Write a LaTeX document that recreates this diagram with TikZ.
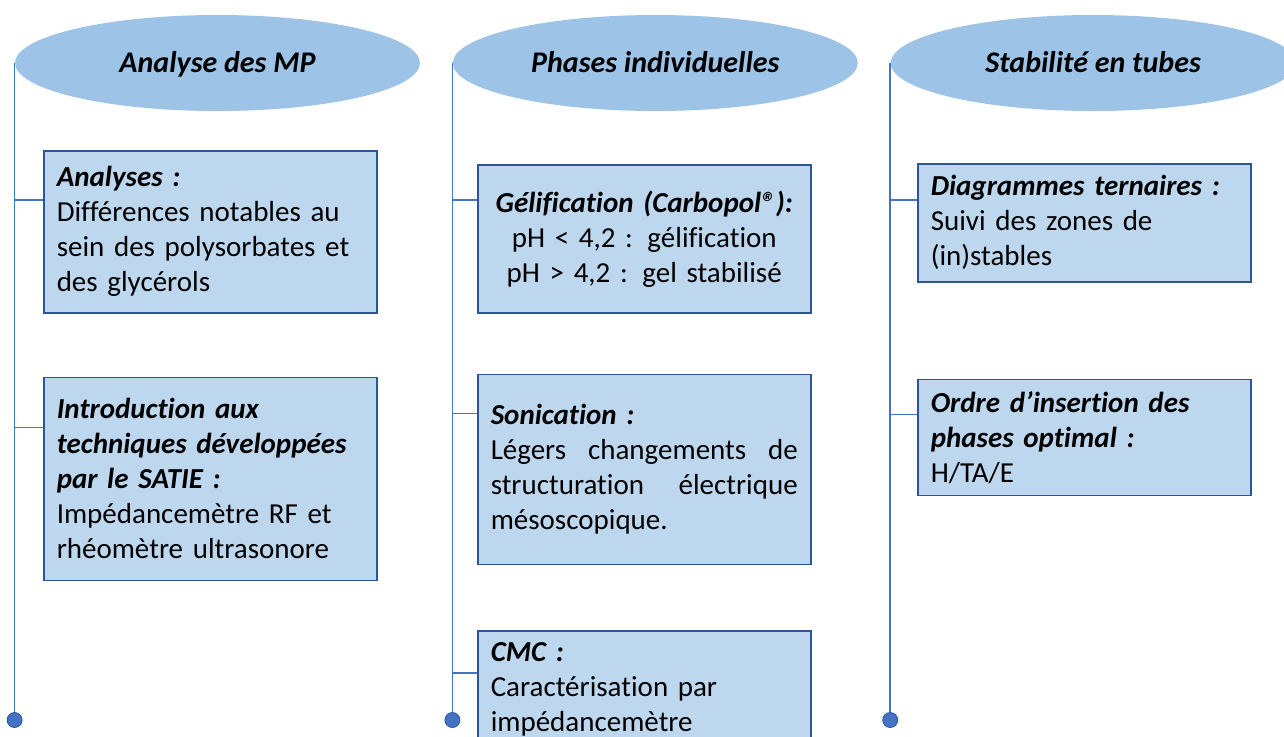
\documentclass[tikz,border=0pt]{standalone}
\usepackage{fontspec}
\setmainfont{Carlito}[Ligatures=NoCommon]
\usepackage{xcolor}
\usetikzlibrary{positioning,shapes.geometric}
\definecolor{hdrblue}{HTML}{9DC3E6}
\definecolor{cardblue}{HTML}{BDD7EE}
\definecolor{cardline}{HTML}{2F5597}
\definecolor{spineblue}{HTML}{4472C4}
\tikzset{
  hdr/.style={ellipse, fill=hdrblue, minimum width=202.5pt, minimum height=48pt,
              inner sep=0pt, text height=9.7pt, text depth=0pt,
              font=\fontsize{15pt}{18pt}\selectfont\bfseries\itshape},
  card/.style={rectangle, draw=cardline, line width=0.75pt, fill=cardblue,
               text width=153.5pt, inner xsep=6.5pt, inner ysep=0pt,
               minimum height=#1, align=left, font=\fontsize{14.5pt}{17.5pt}\selectfont},
  spine/.style={draw=spineblue, line width=0.75pt},
  tick/.style={draw=spineblue, line width=0.75pt},
  dot/.style={circle, fill=spineblue, draw=cardline, line width=0.4pt,
              minimum size=7.5pt, inner sep=0pt},
}
\newcommand{\ttl}[1]{\textbf{\textit{#1}}}

\begin{document}
\begin{tikzpicture}[x=0.5pt, y=-0.5pt, node distance=30pt and 16pt]
  \useasboundingbox (0,0) rectangle (1284,736);
  % headers
  \node[hdr] (mp) at (217.5,63) {Analyse des MP};
  \node[hdr, right=16pt of mp] (phases) {Phases individuelles};
  \node[hdr, right=16pt of phases] (tubes) {Stabilité en tubes};

  % column 1
  \node[card=81pt, anchor=north west] (ana) at (43,150)
    {\ttl{Analyses :}\\Différences notables au\\sein des polysorbates et\\des glycérols};
  \node[card=101.5pt, below=31.5pt of ana] (satie)
    {\ttl{Introduction aux}\\\ttl{techniques développées}\\\ttl{par le SATIE :}\\Impédancemètre RF et\\rhéomètre ultrasonore};

  % column 2
  \node[card=74pt, align=center, anchor=north west] (gel) at (477,164)
    {\ttl{Gélification (Carbopol®):}\\pH < 4,2 : gélification\\pH > 4,2 : gel stabilisé};
  \node[card=95pt, below=30pt of gel] (sonic)
    {\ttl{Sonication :}\\Légers\hfill changements\hfill de\\structuration\hfill électrique\\mésoscopique.};
  \node[card=59pt, below=32.5pt of sonic] (cmc)
    {\ttl{CMC :}\\Caractérisation par\\impédancemètre};

  % column 3
  \node[card=59pt, anchor=north west] (tern) at (917,163)
    {\ttl{Diagrammes ternaires :}\\Suivi des zones de\\(in)stables};
  \node[card=58pt, below=48pt of tern] (ordre)
    {\ttl{Ordre d’insertion des}\\\ttl{phases optimal :}\\H/TA/E};

  % spines
  \node[dot] (end1) at (mp.west |- 0,720) {};
  \node[dot] (end2) at (phases.west |- 0,720) {};
  \node[dot] (end3) at (tubes.west |- 0,720) {};
  \draw[spine] (mp.west) -- (end1);
  \draw[spine] (phases.west) -- (end2);
  \draw[spine] (tubes.west) -- (end3);

  % ticks
  \coordinate (tana) at ([yshift=-25pt]ana.north west);
  \coordinate (tsatie) at ([yshift=-25.5pt]satie.north west);
  \coordinate (tgel) at ([yshift=-18pt]gel.north west);
  \coordinate (tsonic) at ([yshift=-20pt]sonic.north west);
  \coordinate (tcmc) at ([yshift=-21.5pt]cmc.north west);
  \coordinate (ttern) at ([yshift=-18.5pt]tern.north west);
  \coordinate (tordre) at ([yshift=-18pt]ordre.north west);
  \draw[tick] (mp.west |- tana) -- (tana);
  \draw[tick] (mp.west |- tsatie) -- (tsatie);
  \draw[tick] (phases.west |- tgel) -- (tgel);
  \draw[tick] (phases.west |- tsonic) -- (tsonic);
  \draw[tick] (phases.west |- tcmc) -- (tcmc);
  \draw[tick] (tubes.west |- ttern) -- (ttern);
  \draw[tick] (tubes.west |- tordre) -- (tordre);
\end{tikzpicture}
\end{document}
